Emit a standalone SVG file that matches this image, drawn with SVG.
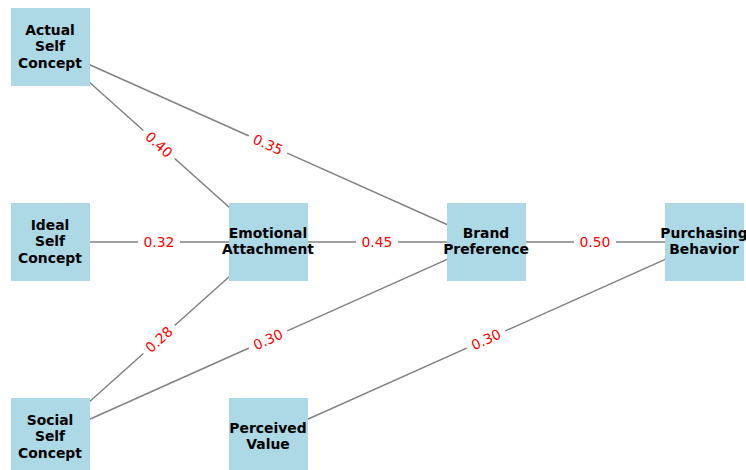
<svg xmlns="http://www.w3.org/2000/svg" width="746" height="470" viewBox="0 0 746 470">
<style>
.edge{stroke:#808080;stroke-width:1.4;fill:none}
.node rect{fill:#ADD8E6}
.node text{font-family:"DejaVu Sans",sans-serif;font-weight:bold;font-size:13.9px;fill:#000;text-anchor:middle}
.lbl rect{fill:#fff}
.lbl text{font-family:"DejaVu Sans",sans-serif;font-size:13.9px;fill:#ff0000;text-anchor:middle}
</style>
<rect width="746" height="470" fill="#fff"/>
<g id="connectors">
<line class="edge" x1="50" y1="47" x2="268" y2="242"/>
<line class="edge" x1="50" y1="47" x2="486" y2="242"/>
<line class="edge" x1="50" y1="242" x2="268" y2="242"/>
<line class="edge" x1="50" y1="437" x2="268" y2="242"/>
<line class="edge" x1="50" y1="437" x2="486" y2="242"/>
<line class="edge" x1="268" y1="242" x2="486" y2="242"/>
<line class="edge" x1="486" y1="242" x2="704" y2="242"/>
<line class="edge" x1="268" y1="437" x2="704" y2="242"/>
<g class="lbl" transform="translate(159,144.5) rotate(41.8)"><rect x="-21" y="-10" width="42" height="20"/><text y="5">0.40</text></g>
<g class="lbl" transform="translate(268,144.5) rotate(24.1)"><rect x="-21" y="-10" width="42" height="20"/><text y="5">0.35</text></g>
<g class="lbl" transform="translate(159,242)"><rect x="-21" y="-10" width="42" height="20"/><text y="5">0.32</text></g>
<g class="lbl" transform="translate(159,339.5) rotate(-41.8)"><rect x="-21" y="-10" width="42" height="20"/><text y="5">0.28</text></g>
<g class="lbl" transform="translate(268,339.5) rotate(-24.1)"><rect x="-21" y="-10" width="42" height="20"/><text y="5">0.30</text></g>
<g class="lbl" transform="translate(377,242)"><rect x="-21" y="-10" width="42" height="20"/><text y="5">0.45</text></g>
<g class="lbl" transform="translate(595,242)"><rect x="-21" y="-10" width="42" height="20"/><text y="5">0.50</text></g>
<g class="lbl" transform="translate(486,339.5) rotate(-24.1)"><rect x="-21" y="-10" width="42" height="20"/><text y="5">0.30</text></g>
</g>
<g id="actual" class="node"><rect x="11" y="8" width="79" height="78"/><text x="50" y="34.5">Actual</text><text x="50" y="51">Self</text><text x="50" y="67.5">Concept</text></g>
<g id="ideal" class="node"><rect x="11" y="203" width="79" height="78"/><text x="50" y="229.5">Ideal</text><text x="50" y="246">Self</text><text x="50" y="262.5">Concept</text></g>
<g id="social" class="node"><rect x="11" y="398" width="79" height="78"/><text x="50" y="424.5">Social</text><text x="50" y="441">Self</text><text x="50" y="457.5">Concept</text></g>
<g id="emotional" class="node"><rect x="229" y="203" width="79" height="78"/><text x="268" y="237.5">Emotional</text><text x="268" y="254">Attachment</text></g>
<g id="perceived" class="node"><rect x="229" y="398" width="79" height="78"/><text x="268" y="432.5">Perceived</text><text x="268" y="449">Value</text></g>
<g id="brand" class="node"><rect x="447" y="203" width="79" height="78"/><text x="486" y="237.5">Brand</text><text x="486" y="254">Preference</text></g>
<g id="purchasing" class="node"><rect x="665" y="203" width="79" height="78"/><text x="704" y="237.5">Purchasing</text><text x="704" y="254">Behavior</text></g>
</svg>
